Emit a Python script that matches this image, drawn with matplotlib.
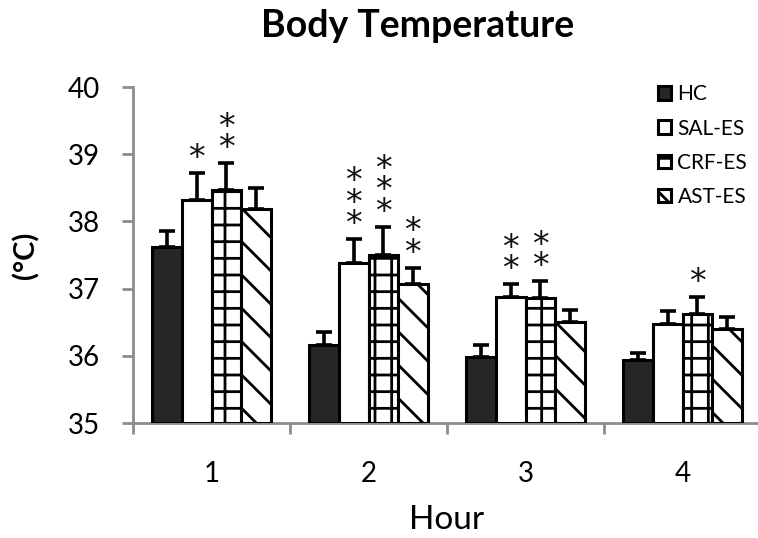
import matplotlib
matplotlib.use('Agg')
import matplotlib.pyplot as plt
import numpy as np

plt.rcParams['font.family'] = ['Lato', 'DejaVu Sans']
plt.rcParams['hatch.linewidth'] = 2.0

hours     = ['1', '2', '3', '4']
groups    = ['HC', 'SAL-ES', 'CRF-ES', 'AST-ES']

# mean body temperature (deg C) per hour, one list per group
hc_mean   = [37.62, 36.16, 35.98, 35.94]
sal_mean  = [38.32, 37.38, 36.87, 36.47]
crf_mean  = [38.47, 37.50, 36.86, 36.62]
ast_mean  = [38.18, 37.07, 36.50, 36.40]

# upper end of the error bars
hc_top    = [37.86, 36.35, 36.16, 36.04]
sal_top   = [38.72, 37.74, 37.07, 36.67]
crf_top   = [38.87, 37.92, 37.11, 36.87]
ast_top   = [38.50, 37.31, 36.68, 36.58]

# number of significance stars above each bar
hc_stars  = [0, 0, 0, 0]
sal_stars = [1, 3, 2, 0]
crf_stars = [2, 3, 2, 1]
ast_stars = [0, 2, 0, 0]

means = [hc_mean, sal_mean, crf_mean, ast_mean]
tops  = [hc_top, sal_top, crf_top, ast_top]
stars = [hc_stars, sal_stars, crf_stars, ast_stars]
faces = ['#262626', 'white', 'white', 'white']
hatch = [None, None, '+', '\\']

W, H = 758, 538
fig = plt.figure(figsize=(W/100, H/100), dpi=100)
ax = fig.add_axes([133/W, 1-423/H, 628/W, 336/H])

x  = np.arange(len(hours))
bw = 0.188
handles = []
for i in range(4):
	xs  = x + (i - 1.5)*bw
	m   = np.array(means[i])
	err = np.array(tops[i]) - m
	b = ax.bar(xs, m - 35, bw, bottom=35, color=faces[i], edgecolor='black',
			   linewidth=2.2, hatch=hatch[i], zorder=3)
	ax.errorbar(xs, m, yerr=[np.zeros_like(err), err], fmt='none', ecolor='black',
				elinewidth=2.6, capsize=6, capthick=2.6, zorder=2)
	handles.append(b)
	for j in range(4):
		if stars[i][j] > 0:
			ax.annotate('\n'.join(['*']*stars[i][j]), xy=(xs[j], tops[i][j]),
						xytext=(0, -2), textcoords='offset pixels', ha='center',
						va='bottom', fontsize=24, linespacing=0.55,
						family='DejaVu Sans', color='#111111')

ax.set_xlim(-0.5, 3.5)
ax.set_ylim(35, 40)
ax.set_yticks([35, 36, 37, 38, 39, 40])
ax.set_xticks(x)
ax.set_xticklabels(hours)
ax.set_xticks(np.arange(-0.5, 4, 1), minor=True)
ax.tick_params(axis='x', which='major', length=0, pad=27, labelsize=20)
ax.tick_params(axis='x', which='minor', length=8, width=2, color='#8c8c8c', direction='out')
ax.tick_params(axis='y', length=8, width=2, color='#8c8c8c', pad=16, labelsize=20)
for s in ['top', 'right']:
	ax.spines[s].set_visible(False)
for s in ['left', 'bottom']:
	ax.spines[s].set_color('#8c8c8c')
	ax.spines[s].set_linewidth(2)

ax.set_xlabel('Hour', fontsize=24, labelpad=13)
ax.set_ylabel('(°C)', fontsize=21, fontweight='bold', labelpad=20)
fig.text(418/W, 1-37/H, 'Body Temperature', ha='center', va='baseline',
		 fontsize=27, fontweight='bold')

ax.legend(handles, groups, loc='upper left', bbox_to_anchor=(650/W, 1-76/H),
		  bbox_transform=fig.transFigure, frameon=False, fontsize=15,
		  handlelength=0.62, handleheight=0.62, handletextpad=0.3, labelspacing=0.68,
		  borderaxespad=0)

plt.savefig('out.png', dpi=100)
